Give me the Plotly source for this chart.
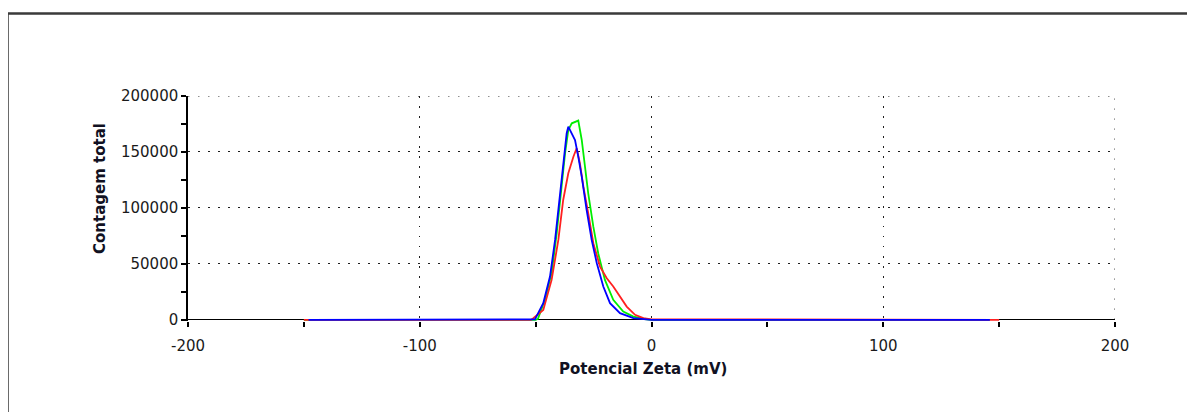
import plotly.graph_objects as go

# Zeta potential distributions (mV vs total counts)
green_x = [-150, -50, -49, -46.0, -43.1, -40.9, -38.8, -37.3, -35.9, -34.4, -31.6, -30.1, -28.7, -27.3,
           -25.1, -23.0, -20.1, -16.5, -12.2, -7.8, -3.0, 0, 146]
green_y = [0, 0, 1000, 17900, 41700, 77400, 119000, 148800, 169600, 175600, 178000, 160700, 136900, 113100,
           83300, 59500, 35700, 17900, 7400, 3000, 800, 0, 0]

red_x = [-150, -52, -51, -46.7, -43.1, -40.2, -38.1, -35.9, -33.7, -32.3, -30.9, -29.4, -27.3, -25.1,
         -22.2, -19.3, -16.5, -13.6, -10.7, -7.1, -3.5, 0, 150]
red_y = [0, 0, 1500, 8900, 35700, 71400, 107100, 131000, 145800, 153300, 139900, 119000, 95300, 68500,
         47600, 37200, 29800, 20800, 11900, 4500, 1500, 500, 0]

blue_x = [-148, -51, -50.3, -46.7, -43.8, -41.6, -39.5, -38.1, -36.6, -35.9, -33.0, -31.6, -30.1, -28.0,
          -25.8, -23.6, -20.8, -17.9, -13.6, -7.8, -3.0, 0, 146]
blue_y = [0, 0, 500, 14900, 38700, 71400, 113100, 142900, 166700, 172600, 160700, 145800, 127900, 98200,
          71400, 50600, 29800, 14900, 6000, 1500, 500, 0, 0]

x_tickvals = [-200, -100, 0, 100, 200]
x_ticktext = ["-200", "-100", "0", "100", "200"]
x_minorvals = [-150, -50, 50, 150]
y_tickvals = [0, 50000, 100000, 150000, 200000]
y_ticktext = ["0", "50000", "100000", "150000", "200000"]
x_range = [-200, 200]
y_range = [-1000, 200000]
x_title = "Potencial Zeta (mV)"
y_title = "Contagem total"

W, H = 1195, 412
OFF = 8  # page body margin
# plot area in window pixels: x 188..1115, y 96..321
L = 188 - OFF
T = 96 - OFF
R = W - (1115 - OFF)
B = H - (321 - OFF)
pw, ph = W - L - R, H - T - B

def px_x(p):
    return (p - OFF - L) / pw

def px_y(p):
    return (T + ph - (p - OFF)) / ph

fig = go.Figure()
for xs, ys, col in [(green_x, green_y, "#00ee00"), (red_x, red_y, "#ff2020"), (blue_x, blue_y, "#0000ff")]:
    fig.add_trace(go.Scatter(x=xs, y=ys, mode="lines", line=dict(color=col, width=1.8),
                             showlegend=False, hoverinfo="skip"))

font_tick = dict(family="DejaVu Sans", size=15, color="#1a1a1a")
GRID = "#1e1e1e"
DASH = "1.5px,8.5px"

fig.update_layout(
    width=W, height=H,
    margin=dict(l=L, r=R, t=T, b=B),
    paper_bgcolor="white", plot_bgcolor="white",
    xaxis=dict(range=x_range, tickmode="array", tickvals=x_tickvals, ticktext=x_ticktext,
               showgrid=True, gridcolor=GRID, griddash=DASH, gridwidth=1, zeroline=False,
               showline=False, layer="below traces",
               ticks="outside", ticklen=5, tickcolor="black", tickwidth=1.5,
               minor=dict(tickmode="array", tickvals=x_minorvals, ticks="outside", ticklen=5,
                          tickcolor="black", tickwidth=1.5, showgrid=False),
               tickfont=font_tick, ticklabelstandoff=6),
    yaxis=dict(range=y_range, tickmode="array", tickvals=y_tickvals, ticktext=y_ticktext,
               showgrid=True, gridcolor=GRID, griddash=DASH, gridwidth=1,
               zeroline=True, zerolinecolor="black", zerolinewidth=1.3,
               showline=True, linecolor="black", linewidth=1.5, layer="below traces",
               ticks="outside", ticklen=5, tickcolor="black", tickwidth=1.5,
               minor=dict(dtick=25000, tick0=0, ticks="outside", ticklen=5, tickcolor="black",
                          tickwidth=1.5, showgrid=False),
               tickfont=font_tick),
    annotations=[
        dict(text="<b>" + x_title + "</b>", xref="paper", yref="paper", x=px_x(643), y=px_y(369),
             xanchor="center", yanchor="middle", showarrow=False,
             font=dict(family="DejaVu Sans", size=15, color="#111122")),
        dict(text="<b>" + y_title + "</b>", xref="paper", yref="paper", x=px_x(100), y=px_y(189),
             xanchor="center", yanchor="middle", textangle=-90, showarrow=False,
             font=dict(family="DejaVu Sans", size=15, color="#111122")),
    ],
    shapes=[
        dict(type="rect", xref="paper", yref="paper", x0=px_x(7.5), y0=px_y(440), x1=px_x(1220), y1=px_y(13.5),
             line=dict(color="#3a3a3a", width=2.5), layer="below"),
        dict(type="line", xref="x", yref="y", x0=x_range[0], x1=x_range[1], y0=y_tickvals[-1], y1=y_tickvals[-1],
             line=dict(color=GRID, width=1, dash=DASH), layer="below"),
        dict(type="line", xref="x", yref="y", x0=x_tickvals[-1], x1=x_tickvals[-1], y0=0, y1=y_tickvals[-1],
             line=dict(color=GRID, width=1, dash=DASH), layer="below"),
    ],
)

fig.write_html("out.html")
